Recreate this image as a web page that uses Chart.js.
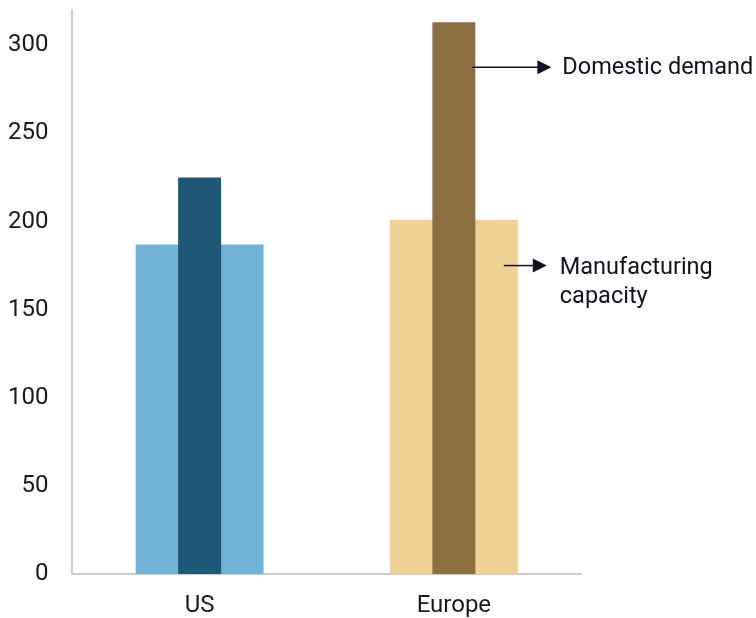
<!DOCTYPE html>
<html>
<head>
<meta charset="utf-8">
<style>
  html, body { margin: 0; padding: 0; background: #fff; }
  #wrap { width: 756px; height: 618px; }
</style>
<script src="https://cdn.jsdelivr.net/npm/chart.js@4/dist/chart.umd.min.js"></script>
</head>
<body>
<div id="wrap"><canvas id="c" width="756" height="618"></canvas></div>
<script>
const regions = ['US', 'Europe'];
const domesticDemand = [225, 313];
const manufacturingCapacity = [187, 201];
const yTicks = [0, 50, 100, 150, 200, 250, 300];

const demandColors = ['#1f5876', '#8b6f41'];
const capacityColors = ['#70b3d7', '#f0d196'];

const FONT = 'Roboto, "Liberation Sans", sans-serif';

// Arrow callouts pointing out of the Europe bars
const callouts = {
  id: 'callouts',
  afterDatasetsDraw(chart) {
    const ctx = chart.ctx;
    const y = chart.scales.y;
    const demandBar = chart.getDatasetMeta(0).data[1];
    const capBar = chart.getDatasetMeta(1).data[1];
    const ink = '#12121f';
    function arrow(x1, x2, py) {
      ctx.save();
      ctx.strokeStyle = ink;
      ctx.fillStyle = ink;
      ctx.lineWidth = 1.5;
      ctx.beginPath();
      ctx.moveTo(x1, py);
      ctx.lineTo(x2 - 12, py);
      ctx.stroke();
      ctx.beginPath();
      ctx.moveTo(x2, py);
      ctx.lineTo(x2 - 14, py - 7);
      ctx.lineTo(x2 - 14, py + 7);
      ctx.closePath();
      ctx.fill();
      ctx.restore();
    }
    ctx.save();
    ctx.font = '23.5px ' + FONT;
    ctx.fillStyle = ink;
    ctx.textBaseline = 'middle';
    ctx.textAlign = 'left';

    const dx = demandBar.x + demandBar.width / 2;
    const dy = y.getPixelForValue(287.5);
    arrow(dx - 3, dx + 76, dy);
    ctx.fillText('Domestic demand', dx + 87, dy + 1);

    const cx = capBar.x + capBar.width / 2;
    const cy = y.getPixelForValue(175);
    arrow(cx - 14, cx + 29, cy);
    ctx.fillText('Manufacturing', cx + 42, cy + 3);
    ctx.fillText('capacity', cx + 42, cy + 32);
    ctx.restore();
  }
};

new Chart(document.getElementById('c'), {
  type: 'bar',
  data: {
    labels: regions,
    datasets: [
      {
        label: 'Domestic demand',
        data: domesticDemand,
        backgroundColor: demandColors,
        categoryPercentage: 1,
        barPercentage: 0.169
      },
      {
        label: 'Manufacturing capacity',
        data: manufacturingCapacity,
        backgroundColor: capacityColors,
        categoryPercentage: 1,
        barPercentage: 0.503
      }
    ]
  },
  options: {
    responsive: false,
    animation: false,
    devicePixelRatio: 1,
    layout: { padding: { top: 10, right: 175, left: -16, bottom: 0 } },
    plugins: { legend: { display: false }, tooltip: { enabled: false } },
    datasets: { bar: { grouped: false } },
    scales: {
      x: {
        afterFit(scale) { scale.height = 44; scale.paddingLeft = 0; scale.paddingRight = 0; },
        grid: { display: false, drawTicks: false },
        border: { display: true, color: '#cccccc', width: 2 },
        ticks: {
          color: '#1a1a1a',
          padding: 18,
          font: { family: FONT, size: 24 }
        }
      },
      y: {
        min: 0,
        max: 320,
        afterBuildTicks(scale) { scale.ticks = yTicks.map(v => ({ value: v })); },
        afterFit(scale) { scale.paddingTop = 0; scale.paddingBottom = 0; },
        grid: { display: false, drawTicks: false },
        border: { display: true, color: '#cccccc', width: 2 },
        ticks: {
          color: '#1a1a1a',
          padding: 24,
          font: { family: FONT, size: 24 }
        }
      }
    }
  },
  plugins: [callouts]
});
</script>
</body>
</html>
